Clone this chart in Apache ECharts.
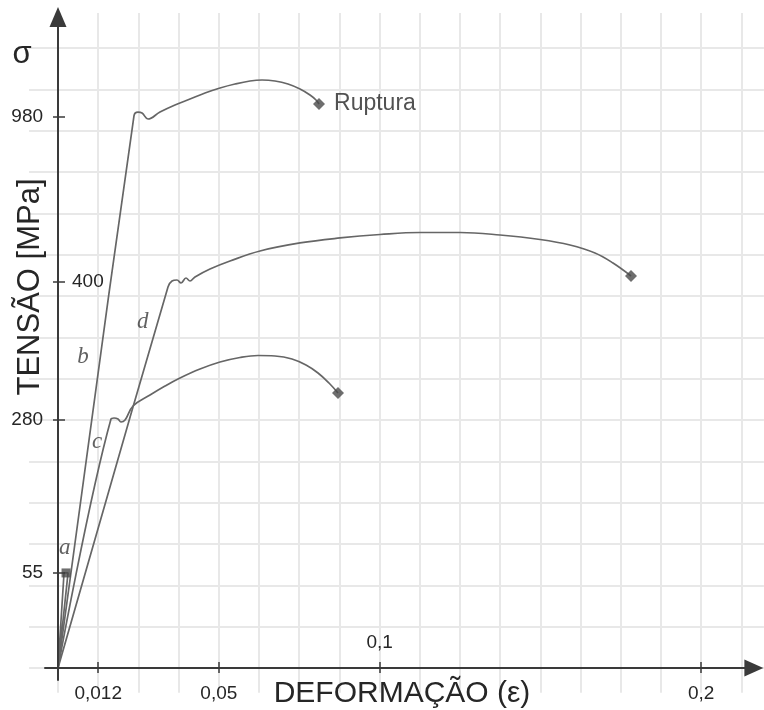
<!DOCTYPE html>
<html><head><meta charset="utf-8">
<script src="https://cdn.jsdelivr.net/npm/echarts@6/dist/echarts.min.js"></script>
<style>html,body{margin:0;padding:0;background:#fff}#c{width:764px;height:710px}</style>
</head><body><div id="c"></div>
<script>
// Schematic stress–strain diagram (axes are not to scale): values are in grid cells of the drawing.
const xTickPos = [1, 4, 8, 16];
const xTickLabels = ['0,012', '0,05', '0,1', '0,2'];
const yTickPos = [2.3, 6, 9.34, 13.33];
const yTickLabels = ['55', '280', '400', '980'];

const curveA_x = [0, 0.15, 0.25, 0];
const curveA_y = [0, 2.30, 2.30, 0];

const curveB_x = [0, 1.89, 1.99, 2.09, 2.239, 2.537, 2.910, 3.284, 3.657, 4.030, 4.403, 4.776, 5.075, 5.398, 5.721, 6.020, 6.269, 6.418, 6.493];
const curveB_y = [0, 13.36, 13.45, 13.43, 13.283, 13.452, 13.622, 13.767, 13.912, 14.033, 14.130, 14.203, 14.227, 14.203, 14.130, 14.009, 13.864, 13.743, 13.646];

const curveC_x = [0, 1.318, 1.393, 1.493, 1.567, 1.667, 1.866, 2.289, 2.662, 3.035, 3.532, 4.030, 4.527, 4.975, 5.398, 5.821, 6.169, 6.468, 6.741, 6.965];
const curveC_y = [0, 6.025, 6.049, 6.025, 5.952, 6.000, 6.339, 6.605, 6.823, 7.017, 7.234, 7.404, 7.513, 7.561, 7.549, 7.477, 7.331, 7.138, 6.896, 6.654];

const curveD_x = [0, 2.736, 2.836, 2.960, 3.060, 3.184, 3.284, 3.408, 3.781, 4.279, 5.025, 6.020, 7.015, 8.010, 9.005, 10.000, 10.995, 11.990, 12.736, 13.358, 13.806, 14.254];
const curveD_y = [0, 9.218, 9.364, 9.388, 9.315, 9.436, 9.364, 9.461, 9.654, 9.848, 10.090, 10.284, 10.405, 10.489, 10.537, 10.537, 10.477, 10.368, 10.235, 10.041, 9.799, 9.485];

const curveNames = ['a', 'b', 'c', 'd'];
const curveNameX = [0.17, 0.62, 0.97, 2.11];
const curveNameY = [2.90, 7.52, 5.47, 8.37];

const gridCols = [0,1,2,3,4,5,6,7,8,9,10,11,12,13,14,15,16,17];
const gridRows = [0,1,2,3,4,5,6,7,8,9,10,11,12,13,14,15];

const UX = 40.2, UY = 41.33, OX = 58, OY = 668;
function box(x0, x1, y0, y1) {
  return { left: OX + x0 * UX, top: OY - y1 * UY, width: (x1 - x0) * UX, height: (y1 - y0) * UY, containLabel: false, outerBoundsMode: 'none' };
}
const AX = [-0.323, 17.31, -0.29, 15.75];
const BG = [-0.72, 17.56, -0.6, 15.85];

const FONT = 'Liberation Sans, Arial, sans-serif';
const AXC = '#3a3a3a';
const TXT = '#262626';
const LINEC = '#666666';

function zip(xs, ys) { return xs.map((x, i) => [x, ys[i]]); }
function lab(pos, labels) {
  return function (v) {
    for (let i = 0; i < pos.length; i++) if (Math.abs(pos[i] - v) < 1e-6) return labels[i];
    return '';
  };
}
const hiddenAxis = (gi, min, max) => ({ gridIndex: gi, type: 'value', min, max, show: false,
  axisLine: { show: false }, axisTick: { show: false }, axisLabel: { show: false }, splitLine: { show: false } });

const lineSeries = (data, smooth) => ({
  type: 'line', xAxisIndex: 0, yAxisIndex: 0, data, showSymbol: false, symbol: 'none',
  smooth, lineStyle: { color: LINEC, width: 1.7 }, silent: true, z: 2
});

// grid 0: data; grid 1: background lines; grid 2: upper x ticks on the origin line; grid 3: right-hand y ticks on the origin line
const gTop = box(...AX); gTop.top = OY; gTop.height = 10;
const gRight = box(...AX); gRight.left = OX - 10; gRight.width = 10;

const chart = echarts.init(document.getElementById('c'), null, { renderer: 'canvas' });
chart.setOption({
  backgroundColor: '#fff',
  animation: false,
  grid: [box(...AX), box(...BG), gTop, gRight],
  xAxis: [
    { gridIndex: 0, type: 'value', min: AX[0], max: AX[1], position: 'bottom', z: 5,
      axisLine: { onZero: true, lineStyle: { color: AXC, width: 2 }, symbol: ['none', 'triangle'], symbolSize: [17, 19] },
      axisTick: { customValues: xTickPos, length: 5, lineStyle: { color: AXC, width: 1.5 } },
      axisLabel: { customValues: [1, 4, 16], formatter: lab(xTickPos, xTickLabels), margin: 4, fontSize: 19, color: TXT, fontFamily: FONT },
      splitLine: { show: false } },
    { gridIndex: 1, type: 'value', min: BG[0], max: BG[1], z: -1,
      axisLine: { show: false }, axisTick: { show: false, customValues: gridCols }, axisLabel: { show: false },
      splitLine: { show: true, lineStyle: { color: '#e8e8e8', width: 2 } } },
    { gridIndex: 2, type: 'value', min: AX[0], max: AX[1], position: 'top', z: 5,
      axisLine: { show: false, onZero: false },
      axisTick: { show: true, customValues: xTickPos, length: 6, lineStyle: { color: AXC, width: 1.5 } },
      axisLabel: { customValues: [8], formatter: lab(xTickPos, xTickLabels), margin: 16, fontSize: 19, color: TXT, fontFamily: FONT },
      splitLine: { show: false } },
    hiddenAxis(3, 0, 1)
  ],
  yAxis: [
    { gridIndex: 0, type: 'value', min: AX[2], max: AX[3], position: 'left', z: 5,
      axisLine: { onZero: true, lineStyle: { color: AXC, width: 2 }, symbol: ['none', 'triangle'], symbolSize: [17, 20] },
      axisTick: { customValues: yTickPos, length: 5, lineStyle: { color: AXC, width: 1.5 } },
      axisLabel: { customValues: [2.3, 6, 13.33], formatter: lab(yTickPos, yTickLabels), margin: 2, fontSize: 19, color: TXT, fontFamily: FONT },
      splitLine: { show: false } },
    { gridIndex: 1, type: 'value', min: BG[2], max: BG[3], z: -1,
      axisLine: { show: false }, axisTick: { show: false, customValues: gridRows }, axisLabel: { show: false },
      splitLine: { show: true, lineStyle: { color: '#e8e8e8', width: 2 } } },
    hiddenAxis(2, 0, 1),
    { gridIndex: 3, type: 'value', min: AX[2], max: AX[3], position: 'right', z: 5,
      axisLine: { show: false, onZero: false },
      axisTick: { show: true, customValues: yTickPos, length: 7, lineStyle: { color: AXC, width: 1.5 } },
      axisLabel: { customValues: [9.34], formatter: lab(yTickPos, yTickLabels), margin: 14, fontSize: 19, color: TXT, fontFamily: FONT },
      splitLine: { show: false } }
  ],
  graphic: [
    { type: 'text', x: 30, y: 287, rotation: Math.PI / 2, z: 10,
      style: { text: 'TENSÃO [MPa]', fontSize: 31, fontFamily: FONT, fill: TXT, textAlign: 'center', textVerticalAlign: 'middle' } },
    { type: 'text', x: 22, y: 54, z: 10,
      style: { text: 'σ', fontSize: 31, fontFamily: FONT, fill: TXT, textAlign: 'center', textVerticalAlign: 'middle' } },
    { type: 'text', x: 402, y: 694, z: 10,
      style: { text: 'DEFORMAÇÃO (ε)', fontSize: 30, fontFamily: FONT, fill: TXT, textAlign: 'center', textVerticalAlign: 'middle' } }
  ],
  series: [
    lineSeries(zip(curveA_x, curveA_y), false),
    lineSeries(zip(curveB_x, curveB_y), 0.4),
    lineSeries(zip(curveC_x, curveC_y), 0.4),
    lineSeries(zip(curveD_x, curveD_y), 0.4),
    { type: 'scatter', xAxisIndex: 0, yAxisIndex: 0, symbol: 'rect', symbolSize: 9, silent: true, z: 4,
      itemStyle: { color: '#4a4a4a' },
      data: [[0.2, curveA_y[1]]] },
    { type: 'scatter', xAxisIndex: 0, yAxisIndex: 0, symbol: 'diamond', symbolSize: 12, silent: true, z: 4,
      itemStyle: { color: '#4a4a4a' },
      data: [
        { value: [curveB_x[curveB_x.length - 1], curveB_y[curveB_y.length - 1]],
          label: { show: true, position: 'right', distance: 9, formatter: 'Ruptura', fontSize: 23, color: TXT, fontFamily: FONT } },
        [curveC_x[curveC_x.length - 1], curveC_y[curveC_y.length - 1]],
        [curveD_x[curveD_x.length - 1], curveD_y[curveD_y.length - 1]]
      ] },
    { type: 'scatter', xAxisIndex: 0, yAxisIndex: 0, symbol: 'circle', symbolSize: 2, silent: true, z: 4,
      itemStyle: { color: 'rgba(0,0,0,0)' },
      data: curveNames.map((n, i) => ({ value: [curveNameX[i], curveNameY[i]], name: n })),
      label: { show: true, position: 'inside', formatter: '{b}', fontSize: 23, fontStyle: 'italic', fontFamily: 'Liberation Serif, DejaVu Serif, serif', color: '#3a3a3a' } }
  ]
});
</script>
</body></html>
